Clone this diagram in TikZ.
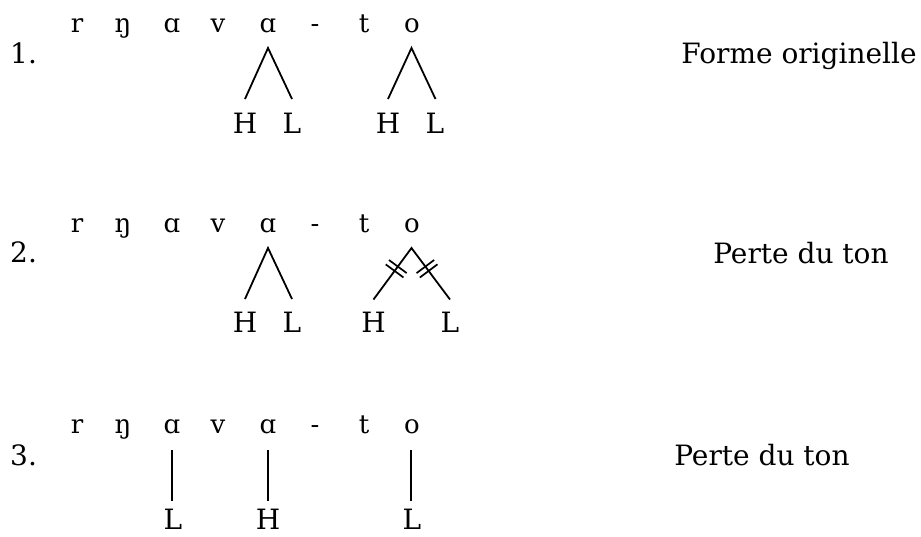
\documentclass[tikz,border=0pt]{standalone}
\usepackage{fontspec}
\setmainfont{DejaVu Serif}
\usetikzlibrary{calc}
\begin{document}
\begin{tikzpicture}[x=1pt,y=-1pt,
  seg/.style={inner sep=0pt,anchor=base,font=\fontsize{26}{30}\selectfont},
  tone/.style={inner sep=0pt,anchor=base,font=\fontsize{28}{32}\selectfont},
  num/.style={inner sep=0pt,anchor=base west,font=\fontsize{28}{32}\selectfont},
  lab/.style={inner sep=0pt,anchor=base,font=\fontsize{28}{32}\selectfont},
  assoc/.style={line width=1.8pt},
  cut/.style={line width=1.7pt}]
\useasboundingbox (0,0) rectangle (921,536);

% ---------- Row 1 ----------
\node[num] (n1) at (10,63) {1.};
\foreach \s/\x/\n in {r/77/a,ŋ/123/b,ɑ/172/c,v/218/d,ɑ/268/e,-/315/f,t/364/g,o/412/h}
  \node[seg] (r1\n) at (\x,32) {\s};
\node[tone] (t1a) at (245,133) {H};
\node[tone] (t1b) at (292,133) {L};
\node[tone] (t1c) at (388,133) {H};
\node[tone] (t1d) at (435,133) {L};
\node[lab] (l1) at (799,63) {Forme originelle};
\coordinate (p1e) at (268,48);
\coordinate (p1h) at (411.5,48);
\coordinate (q1a) at (245,99);
\coordinate (q1b) at (292,99);
\coordinate (q1c) at (388,99);
\coordinate (q1d) at (435.5,99);
\draw[assoc] (q1a) -- (p1e) -- (q1b);
\draw[assoc] (q1c) -- (p1h) -- (q1d);

% ---------- Row 2 ----------
\node[num] (n2) at (10,262) {2.};
\foreach \s/\x/\n in {r/77/a,ŋ/123/b,ɑ/172/c,v/218/d,ɑ/268/e,-/315/f,t/364/g,o/412/h}
  \node[seg] (r2\n) at (\x,232) {\s};
\node[tone] (t2a) at (245,332) {H};
\node[tone] (t2b) at (292,332) {L};
\node[tone] (t2c) at (373.5,332) {H};
\node[tone] (t2d) at (450,332) {L};
\node[lab] (l2) at (801,263) {Perte du ton};
\coordinate (p2e) at (268,248);
\coordinate (p2h) at (411.5,248);
\coordinate (q2a) at (245,299);
\coordinate (q2b) at (292,299);
\coordinate (q2c) at (373.5,299.5);
\coordinate (q2d) at (450,299.5);
\draw[assoc] (q2a) -- (p2e) -- (q2b);
\draw[assoc] (q2c) -- (p2h) -- (q2d);
% cut marks
\foreach \e in {q2c,q2d}{
  \foreach \t in {0.36,0.445}{
    \coordinate (m) at ($(p2h)!\t!(\e)$);
    \draw[cut] ($(m)!11pt!90:(\e)$) -- ($(m)!11pt!-90:(\e)$);
  }
}

% ---------- Row 3 ----------
\node[num] (n3) at (10,465) {3.};
\foreach \s/\x/\n in {r/77/a,ŋ/123/b,ɑ/172/c,v/218/d,ɑ/268/e,-/315/f,t/364/g,o/412/h}
  \node[seg] (r3\n) at (\x,433) {\s};
\node[tone] (t3a) at (173,529) {L};
\node[tone] (t3b) at (268,529) {H};
\node[tone] (t3c) at (412,529) {L};
\node[lab] (l3) at (762,465) {Perte du ton};
\coordinate (p3c) at (172.3,450);
\coordinate (p3e) at (268.3,450);
\coordinate (p3h) at (411,450);
\coordinate (q3c) at (172.3,501);
\coordinate (q3e) at (268.3,501);
\coordinate (q3h) at (411,501);
\draw[assoc] (p3c) -- (q3c);
\draw[assoc] (p3e) -- (q3e);
\draw[assoc] (p3h) -- (q3h);
\end{tikzpicture}
\end{document}
